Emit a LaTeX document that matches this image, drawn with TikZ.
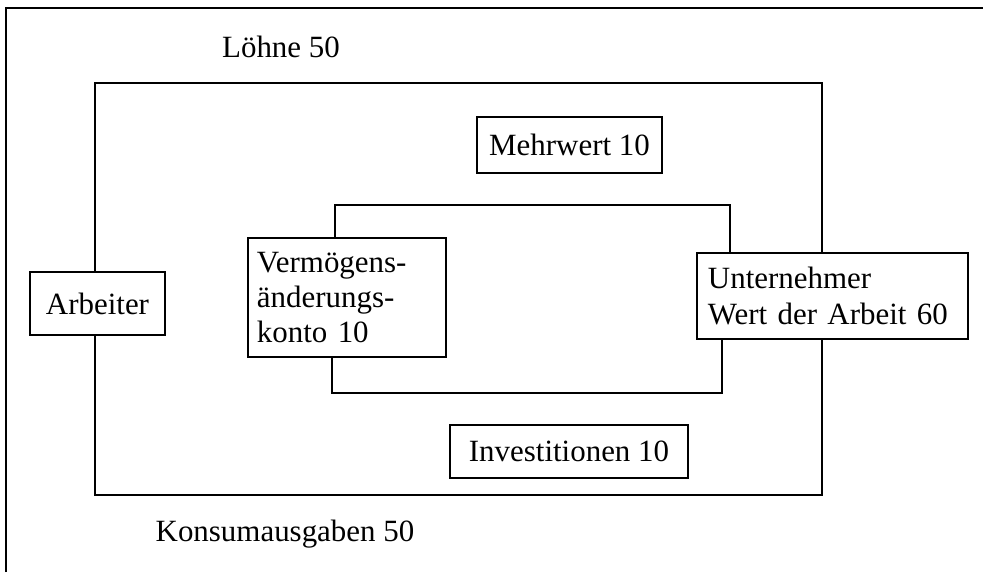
\documentclass[tikz,border=0pt]{standalone}
\usepackage{fontspec}
\setmainfont{Liberation Serif}
\usepackage{tikz}

\tikzset{
  konto/.style={draw, line width=1.8pt, inner sep=0.225cm, fill=white},
  fluss/.style={line width=1.8pt},
  rahmen/.style={line width=1.3pt}
}

\begin{document}
\begin{tikzpicture}[x=0.025cm, y=-0.025cm, font=\fontsize{22}{25}\selectfont]

\useasboundingbox (0,0) rectangle (983,572);

% Frame
  \draw[rahmen] (6,572) -- (6,8) -- (983,8);

% Corners
  \coordinate (nw)  at (95,83);  \coordinate (ne)  at (822,83);
  \coordinate (sw)  at (95,495); \coordinate (se)  at (822,495);
  \coordinate (inw) at (335,205); \coordinate (ine) at (730,205);
  \coordinate (isw) at (332,393); \coordinate (ise) at (722,393);

% Nodes
  \node[konto, minimum width=3.375cm, minimum height=1.575cm]
    (arbeiter) at (97.5,303.5) {Arbeiter}; %
  \node[konto, minimum width=4.625cm, minimum height=1.4cm]
    (mehrwert) at (569.5,145) {Mehrwert 10}; %
  \node[konto, text width=4.5cm, align=left, minimum height=2.975cm]
    (vermoegen) at (347,297.5) {Vermögens-\\änderungs-\\konto 10}; %
  \node[konto, inner sep=0.275cm, text width=6.225cm, align=left, minimum height=2.15cm]
    (unternehmer) at (832.5,296) {Unternehmer\\Wert der Arbeit 60}; %
  \node[konto, minimum width=5.95cm, minimum height=1.325cm]
    (investitionen) at (569,451.5) {Investitionen 10}; %

  \node (loehne) at (281,47)  {Löhne 50}; %
  \node (konsum) at (285,534) {Konsumausgaben 50}; %

% Edges
  \draw[fluss] (nw |- arbeiter.north) -- (nw) -- (ne) -- (ne |- unternehmer.north);
  \draw[fluss] (se |- unternehmer.south) -- (se) -- (sw) -- (sw |- arbeiter.south);

  \draw[fluss] (inw |- vermoegen.north) -- (inw) -- (ine) -- (ine |- unternehmer.north);
  \draw[fluss] (ise |- unternehmer.south) -- (ise) -- (isw) -- (isw |- vermoegen.south);

\end{tikzpicture}
\end{document}
